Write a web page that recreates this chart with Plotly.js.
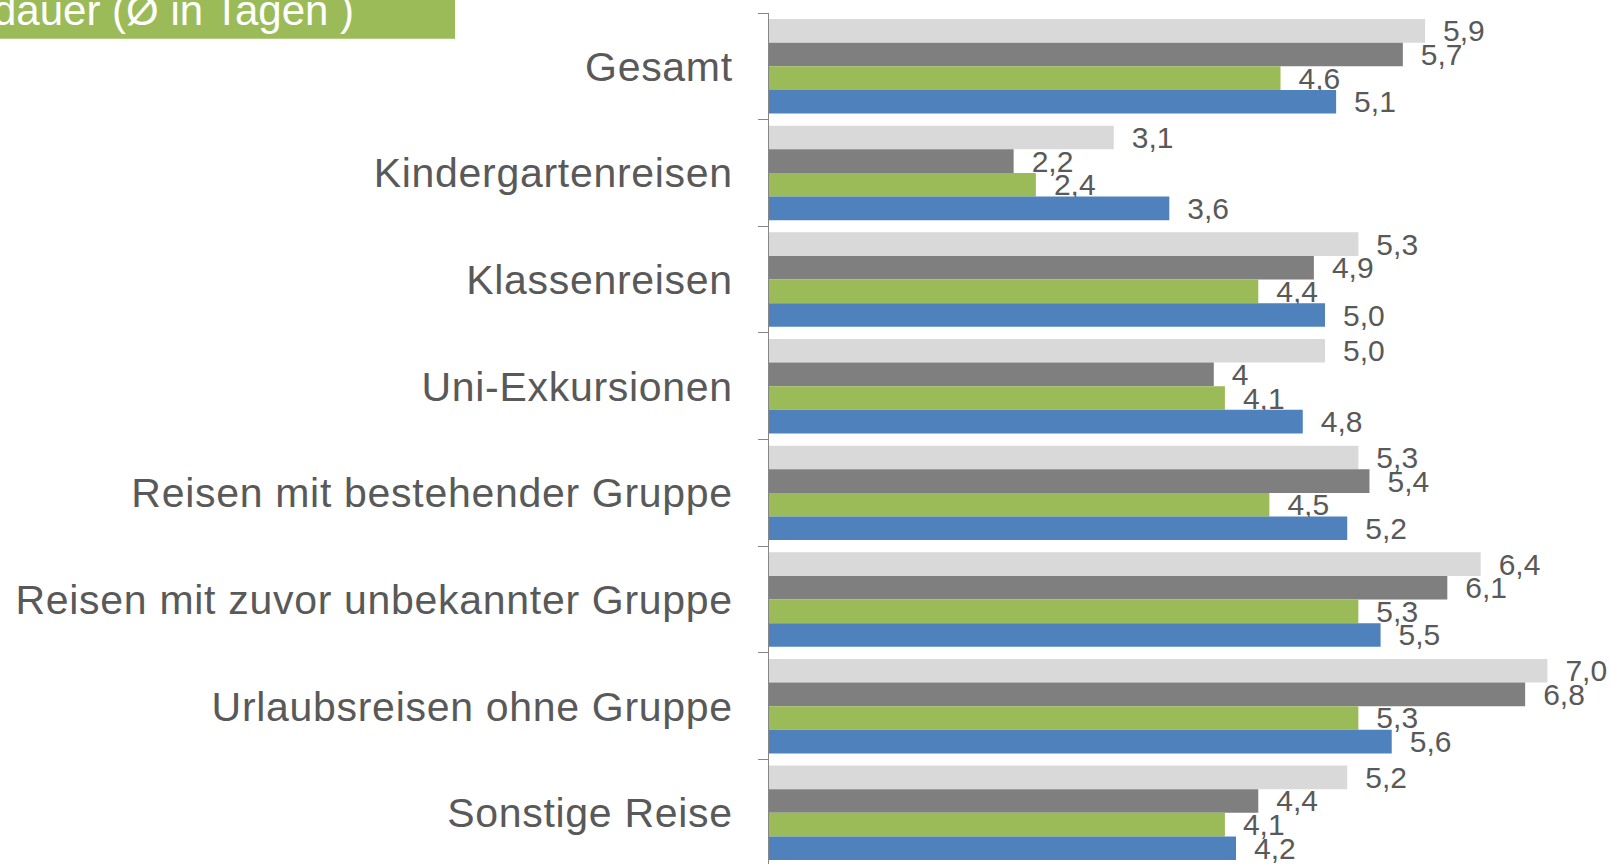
<!DOCTYPE html>
<html>
<head>
<meta charset="utf-8">
<script src="https://cdn.plot.ly/plotly-3.0.1.min.js"></script>
<style>
  html, body { margin: 0; padding: 0; background: #ffffff; }
  #chart { width: 1610px; height: 864px; }
  .ytick text { letter-spacing: 0.7px; }
</style>
</head>
<body>
<div id="chart"></div>
<script>
// ---- data ----
const categories = [
  "Gesamt",
  "Kindergartenreisen",
  "Klassenreisen",
  "Uni-Exkursionen",
  "Reisen mit bestehender Gruppe",
  "Reisen mit zuvor unbekannter Gruppe",
  "Urlaubsreisen ohne Gruppe",
  "Sonstige Reise"
];
const seriesLight = [5.9, 3.1, 5.3, 5.0, 5.3, 6.4, 7.0, 5.2];
const seriesDark  = [5.7, 2.2, 4.9, 4.0, 5.4, 6.1, 6.8, 4.4];
const seriesGreen = [4.6, 2.4, 4.4, 4.1, 4.5, 5.3, 5.3, 4.1];
const seriesBlue  = [5.1, 3.6, 5.0, 4.8, 5.2, 5.5, 5.6, 4.2];
// label shown without decimal in the original (Uni-Exkursionen, dark series)
const darkLabelOverrides = {3: "4"};
const titleText = "dauer (Ø in Tagen<sup>*</sup>)";

// ---- geometry ----
const W = 1610, H = 864;
const M = {l: 769, r: 7, t: 13, b: 0};
const plotW = W - M.l - M.r, plotH = H - M.t - M.b;
const px2x = p => (p - M.l) / plotW;
const px2y = p => (H - M.b - p) / plotH;

const fmt = v => v.toFixed(1).replace(".", ",");
const PAD = "\u2002";
function labels(vals, overrides) {
  return vals.map((v, i) => PAD + ((overrides && overrides[i] !== undefined) ? overrides[i] : fmt(v)));
}

const FONT = "Liberation Sans, Arial, sans-serif";
function mk(name, vals, color, overrides) {
  return {
    type: "bar",
    orientation: "h",
    name: name,
    y: categories,
    x: vals,
    marker: {color: color},
    text: labels(vals, overrides),
    textposition: "outside",
    constraintext: "none",
    cliponaxis: false,
    textfont: {family: FONT, size: 30, color: "#595959"},
    hoverinfo: "x+y"
  };
}

const traces = [
  mk("Serie 1", seriesLight, "#D9D9D9"),
  mk("Serie 2", seriesDark, "#7F7F7F", darkLabelOverrides),
  mk("Serie 3", seriesGreen, "#9BBB59"),
  mk("Serie 4", seriesBlue, "#4F81BD")
];

const layout = {
  width: W, height: H,
  margin: M,
  paper_bgcolor: "#ffffff",
  plot_bgcolor: "#ffffff",
  showlegend: false,
  barmode: "group",
  bargap: 0.114,
  bargroupgap: 0,
  font: {family: FONT, color: "#595959"},
  xaxis: {
    range: [0, 7.5],
    visible: false,
    showgrid: false,
    zeroline: false,
    fixedrange: true
  },
  yaxis: {
    type: "category",
    categoryorder: "array",
    categoryarray: categories,
    range: [-0.5 + plotH / 106.64, -0.5],
    showline: true,
    linecolor: "#868686",
    linewidth: 1,
    ticks: "outside",
    tickson: "boundaries",
    ticklen: 10,
    tickcolor: "#868686",
    tickwidth: 1,
    ticklabelstandoff: 27,
    tickfont: {family: FONT, size: 41, color: "#595959"},
    showgrid: false,
    zeroline: false,
    automargin: false,
    fixedrange: true
  },
  shapes: [{
    type: "rect", xref: "paper", yref: "paper",
    x0: px2x(-5), x1: px2x(455), y0: px2y(38.7), y1: px2y(-5),
    fillcolor: "#9BBB59", line: {width: 0}, layer: "above"
  }],
  annotations: [{
    xref: "paper", yref: "paper",
    x: px2x(356), y: px2y(6.5),
    xanchor: "right", yanchor: "middle",
    text: titleText,
    showarrow: false,
    font: {family: FONT, size: 42, color: "#ffffff"}
  }]
};

Plotly.newPlot("chart", traces, layout, {displayModeBar: false, staticPlot: true});
</script>
</body>
</html>
